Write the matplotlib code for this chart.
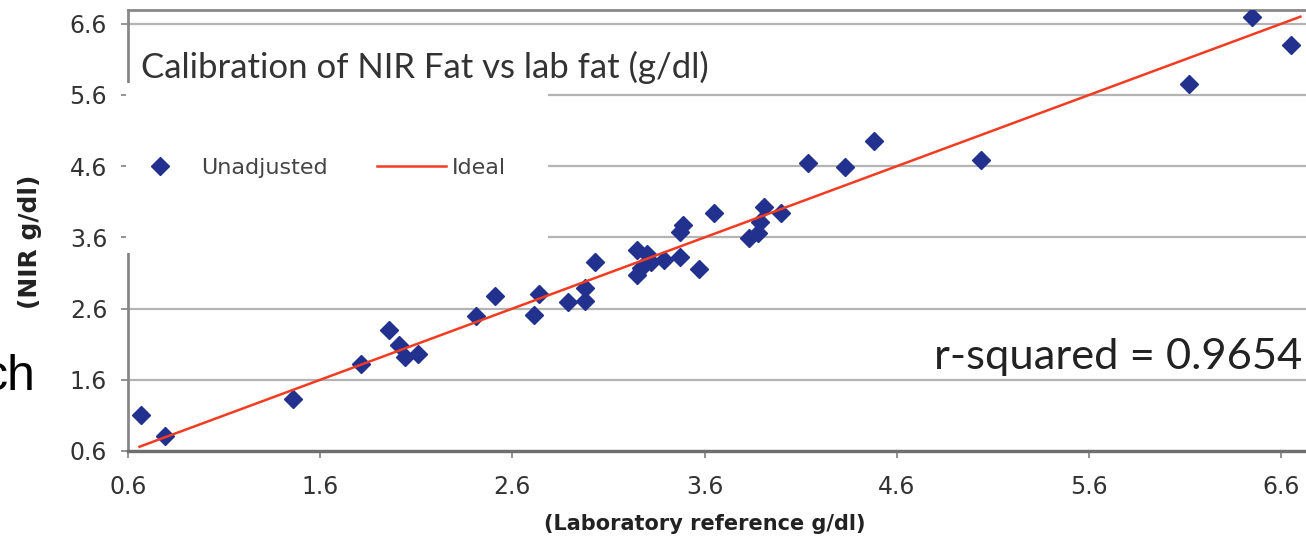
import matplotlib
matplotlib.use("Agg")
import matplotlib.pyplot as plt
from matplotlib.patches import Rectangle
from matplotlib.lines import Line2D

# Laboratory reference fat (g/dl) vs NIR-predicted fat (g/dl), unadjusted
lab_fat = [0.67, 0.79, 1.46, 1.81, 1.96, 2.01, 2.04, 2.11, 2.41, 2.51,
           2.71, 2.74, 2.89, 2.98, 2.98, 3.03, 3.25, 3.30, 3.25, 3.27,
           3.32, 3.39, 3.47, 3.47, 3.49, 3.57, 3.65, 3.83, 3.88, 3.89,
           3.91, 4.00, 4.14, 4.33, 4.48, 5.04, 6.12, 6.45, 6.65]
nir_fat = [1.10, 0.81, 1.33, 1.82, 2.30, 2.09, 1.92, 1.96, 2.50, 2.77,
           2.51, 2.80, 2.69, 2.70, 2.89, 3.26, 3.42, 3.37, 3.07, 3.17,
           3.25, 3.28, 3.33, 3.68, 3.77, 3.15, 3.94, 3.59, 3.66, 3.82,
           4.02, 3.94, 4.65, 4.59, 4.96, 4.69, 5.75, 6.70, 6.30]

# Ideal 1:1 line end points
ideal_x = [0.66, 6.70]
ideal_y = [0.66, 6.70]

tick_values = [0.6, 1.6, 2.6, 3.6, 4.6, 5.6, 6.6]
tick_labels = ["0.6", "1.6", "2.6", "3.6", "4.6", "5.6", "6.6"]

title_text = "Calibration of NIR Fat vs lab fat (g/dl)"
r2_text = "r-squared = 0.9654"

W, H = 1306, 541
fig = plt.figure(figsize=(W / 100, H / 100), dpi=100)
ax = fig.add_axes([128 / W, 1 - 451 / H, 1178 / W, 441 / H])

ax.set_xlim(0.6, 0.6 + 1178 / 192.2)
ax.set_ylim(0.6, 0.6 + 441 / 71.2)
ax.set_xticks(tick_values)
ax.set_xticklabels(tick_labels)
ax.set_yticks(tick_values)
ax.set_yticklabels(tick_labels)

ax.set_axisbelow(True)
ax.grid(axis="y", color="#b4b4b4", linewidth=1.6)
ax.grid(axis="x", visible=False)

for side in ("top", "left"):
    ax.spines[side].set_color("#888888")
    ax.spines[side].set_linewidth(2.0)
ax.spines["bottom"].set_color("#6e6e6e")
ax.spines["bottom"].set_linewidth(2.4)
ax.spines["right"].set_visible(False)

ax.tick_params(axis="both", direction="out", length=5, width=1.3,
               color="#8a8a8a", labelsize=17, labelcolor="#333333")
ax.tick_params(axis="y", pad=10)
ax.tick_params(axis="x", pad=12)

# blank panel behind the legend
ax.add_patch(Rectangle((-2 / 1178, 198 / 441), 422 / 1178, 170 / 441,
                       transform=ax.transAxes, facecolor="white",
                       edgecolor="none", zorder=2.6, clip_on=False))

ax.plot(lab_fat, nir_fat, linestyle="none", marker="D", markersize=9.3,
        color="#22308e", zorder=3)
ax.plot(ideal_x, ideal_y, color="#f23c22", linewidth=1.8, zorder=4)

handles = [
    Line2D([], [], linestyle="none", marker="D", markersize=9.0,
           color="#22308e"),
    Line2D([], [], color="#f23c22", linewidth=1.8),
]
leg = ax.legend(handles, ["Unadjusted", "Ideal"], ncol=2, frameon=False,
                loc="center left", bbox_to_anchor=(-2 / 1178, 283 / 441),
                borderpad=0, borderaxespad=0, fontsize=16,
                handlelength=3.1, handletextpad=0.28, columnspacing=2.2,
                numpoints=1)
for t in leg.get_texts():
    t.set_color("#444444")

fig.text(141 / W, 1 - 78 / H, title_text, family="Lato", fontsize=25,
         color="#333333", ha="left", va="baseline")
fig.text(1302 / W, 1 - 369 / H, r2_text, family="Lato", fontsize=31.3,
         color="#222222", ha="right", va="baseline")

fig.text(705 / W, 1 - 524 / H, "(Laboratory reference g/dl)",
         fontsize=15, fontweight="bold", color="#222222",
         ha="center", va="center")
fig.text(30 / W, 1 - 242 / H, "(NIR g/dl)", fontsize=18,
         fontweight="bold", color="#222222", rotation=90,
         ha="center", va="center")

fig.text(36 / W, 1 - 390 / H, "ch", family="Liberation Sans", fontsize=36,
         color="black", ha="right", va="baseline")

fig.savefig("out.png", dpi=100)
